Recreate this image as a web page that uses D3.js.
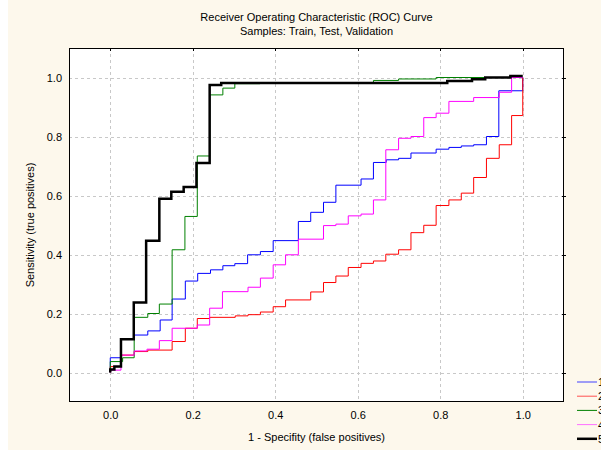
<!DOCTYPE html>
<html>
<head>
<meta charset="utf-8">
<script src="https://cdn.jsdelivr.net/npm/d3@7"></script>
<style>
  html, body { margin: 0; padding: 0; background: #ffffff; }
  svg { display: block; font-family: "Liberation Sans", Arial, sans-serif; }
</style>
</head>
<body>
<svg id="chart" width="601" height="454"></svg>
<script>
// ---------- data ----------
const titleLines = ["Receiver Operating Characteristic (ROC) Curve", "Samples: Train, Test, Validation"];
const xTitle = "1 - Specifity (false positives)";
const yTitle = "Sensitivity (true positives)";
const tickValues = [0.0, 0.2, 0.4, 0.6, 0.8, 1.0];
const seriesNames = ["1", "2", "3", "4", "5"];
const seriesColors = ["#0000ff", "#ff0000", "#008000", "#ff00ff", "#000000"];

const s1Fpr = [0, 0, 0.026, 0.058, 0.091, 0.121, 0.150, 0.182, 0.212, 0.243, 0.273, 0.302, 0.333, 0.364, 0.395, 0.456, 0.486, 0.517, 0.547, 0.608, 0.638, 0.669, 0.699, 0.729, 0.790, 0.821, 0.851, 0.881, 0.912, 0.942, 1.0];
const s1Tpr = [0, 0.050, 0.113, 0.127, 0.141, 0.178, 0.249, 0.310, 0.336, 0.348, 0.362, 0.369, 0.399, 0.410, 0.447, 0.512, 0.543, 0.577, 0.635, 0.656, 0.712, 0.721, 0.726, 0.744, 0.757, 0.763, 0.768, 0.772, 0.800, 0.955, 1.0];

const s2Fpr = [0, 0, 0.026, 0.058, 0.091, 0.150, 0.182, 0.211, 0.241, 0.303, 0.334, 0.364, 0.395, 0.425, 0.486, 0.517, 0.547, 0.577, 0.608, 0.638, 0.668, 0.699, 0.729, 0.760, 0.790, 0.821, 0.851, 0.881, 0.912, 0.943, 0.973, 1.0];
const s2Tpr = [0, 0.020, 0.059, 0.071, 0.076, 0.105, 0.150, 0.183, 0.187, 0.192, 0.196, 0.205, 0.223, 0.246, 0.273, 0.305, 0.327, 0.356, 0.370, 0.378, 0.401, 0.416, 0.474, 0.499, 0.566, 0.585, 0.608, 0.661, 0.726, 0.772, 0.871, 1.0];

const s3Fpr = [0, 0, 0.030, 0.058, 0.091, 0.119, 0.150, 0.181, 0.211, 0.241, 0.273, 0.302, 0.363, 0.638, 0.699, 0.790, 1.0];
const s3Tpr = [0, 0.037, 0.050, 0.187, 0.200, 0.232, 0.416, 0.529, 0.734, 0.941, 0.964, 0.979, 0.983, 0.990, 0.995, 1.0, 1.0];

const s4Fpr = [0, 0, 0.026, 0.058, 0.089, 0.119, 0.150, 0.211, 0.241, 0.272, 0.334, 0.364, 0.395, 0.425, 0.456, 0.517, 0.547, 0.577, 0.608, 0.638, 0.668, 0.699, 0.729, 0.760, 0.790, 0.821, 0.881, 0.943, 0.973, 1.0];
const s4Tpr = [0, 0.008, 0.059, 0.073, 0.079, 0.108, 0.150, 0.161, 0.218, 0.274, 0.289, 0.320, 0.365, 0.399, 0.452, 0.498, 0.503, 0.531, 0.537, 0.585, 0.755, 0.794, 0.800, 0.864, 0.879, 0.919, 0.932, 0.950, 1.0, 1.0];

const s5Fpr = [0, 0, 0.010, 0.026, 0.057, 0.087, 0.119, 0.148, 0.178, 0.209, 0.241, 0.269, 0.817, 0.877, 0.909, 0.970, 1.0];
const s5Tpr = [0, 0.010, 0.020, 0.113, 0.237, 0.447, 0.589, 0.613, 0.629, 0.710, 0.975, 0.981, 0.988, 0.994, 1.0, 1.005, 1.005];

const seriesFpr = [s1Fpr, s2Fpr, s3Fpr, s4Fpr, s5Fpr];
const seriesTpr = [s1Tpr, s2Tpr, s3Tpr, s4Tpr, s5Tpr];
const seriesWidths = [1, 1, 1, 1, 2.5];

// ---------- layout ----------
const W = 601, H = 454;
const plot = { left: 69, right: 564, top: 48, bottom: 402 };
const svg = d3.select("#chart");

// background panel
svg.append("rect").attr("x", 8).attr("y", 0).attr("width", W - 8).attr("height", 450).attr("fill", "#fdf8ec");

const x = d3.scaleLinear().domain([-0.1, 1.1]).range([plot.left, plot.right]);
const y = d3.scaleLinear().domain([-0.1, 1.1]).range([plot.bottom, plot.top]);

// plot area
svg.append("rect")
  .attr("x", plot.left).attr("y", plot.top)
  .attr("width", plot.right - plot.left).attr("height", plot.bottom - plot.top)
  .attr("fill", "#ffffff");

// grid
const grid = svg.append("g").attr("stroke", "#c8c8c8").attr("stroke-dasharray", "3,3").attr("shape-rendering", "crispEdges");
grid.selectAll("line.v").data(tickValues).join("line")
  .attr("x1", d => Math.round(x(d)) + 0.5).attr("x2", d => Math.round(x(d)) + 0.5)
  .attr("y1", plot.top).attr("y2", plot.bottom);
grid.selectAll("line.h").data(tickValues).join("line")
  .attr("y1", d => Math.round(y(d)) + 0.5).attr("y2", d => Math.round(y(d)) + 0.5)
  .attr("x1", plot.left).attr("x2", plot.right);

// series
const clip = svg.append("clipPath").attr("id", "clip").append("rect")
  .attr("x", plot.left).attr("y", plot.top)
  .attr("width", plot.right - plot.left).attr("height", plot.bottom - plot.top);

const line = d3.line().x(d => x(d[0])).y(d => y(d[1])).curve(d3.curveStepAfter);
const gSeries = svg.append("g").attr("clip-path", "url(#clip)");
seriesNames.forEach((name, i) => {
  const pts = d3.zip(seriesFpr[i], seriesTpr[i]);
  gSeries.append("path")
    .datum(pts)
    .attr("d", line)
    .attr("fill", "none")
    .attr("stroke", seriesColors[i])
    .attr("stroke-width", seriesWidths[i])
    .attr("stroke-linejoin", "miter");
});

// frame
svg.append("rect")
  .attr("x", plot.left + 0.5).attr("y", plot.top + 0.5)
  .attr("width", plot.right - plot.left - 1).attr("height", plot.bottom - plot.top - 1)
  .attr("fill", "none").attr("stroke", "#000").attr("stroke-width", 1);

// axes (labels via d3 axes)
const xAxis = d3.axisBottom(x).tickValues(tickValues).tickFormat(d3.format(".1f")).tickSize(0).tickPadding(9);
const yAxis = d3.axisLeft(y).tickValues(tickValues).tickFormat(d3.format(".1f")).tickSize(0).tickPadding(7);
const gx = svg.append("g").attr("transform", `translate(0,${plot.bottom})`).call(xAxis);
const gy = svg.append("g").attr("transform", `translate(${plot.left},0)`).call(yAxis);
[gx, gy].forEach(g => {
  g.select(".domain").remove();
  g.selectAll("text").attr("font-size", 11).attr("fill", "#000").attr("font-family", "Liberation Sans, Arial, sans-serif");
});

// small ticks on top (inside) and right (across frame)
const tk = svg.append("g").attr("stroke", "#000").attr("shape-rendering", "crispEdges");
tk.selectAll("line.t").data(tickValues).join("line")
  .attr("x1", d => Math.round(x(d)) + 0.5).attr("x2", d => Math.round(x(d)) + 0.5)
  .attr("y1", plot.top).attr("y2", plot.top + 3);
tk.selectAll("line.r").data(tickValues).join("line")
  .attr("y1", d => Math.round(y(d)) + 0.5).attr("y2", d => Math.round(y(d)) + 0.5)
  .attr("x1", plot.right - 2).attr("x2", plot.right + 2);

// titles
const cx = (plot.left + plot.right) / 2;
svg.append("text").attr("x", cx).attr("y", 21).attr("text-anchor", "middle").attr("font-size", 11).text(titleLines[0]);
svg.append("text").attr("x", cx).attr("y", 35).attr("text-anchor", "middle").attr("font-size", 11).text(titleLines[1]);
svg.append("text").attr("x", cx).attr("y", 441).attr("text-anchor", "middle").attr("font-size", 11).text(xTitle);
svg.append("text").attr("transform", `translate(34,${(plot.top + plot.bottom) / 2}) rotate(-90)`)
  .attr("text-anchor", "middle").attr("font-size", 11).text(yTitle);

// legend
const legendColors = ["#4040ff", "#ff5050", "#008000", "#ff70ff", "#000000"];
const legendWidths = [1, 1, 1, 1, 2.5];
const lg = svg.append("g");
seriesNames.forEach((name, i) => {
  const ly = 382 + i * 14.2;
  lg.append("line").attr("x1", 577).attr("x2", 597).attr("y1", ly).attr("y2", ly)
    .attr("stroke", legendColors[i]).attr("stroke-width", legendWidths[i]);
  lg.append("text").attr("x", 598).attr("y", ly + 4).attr("font-size", 11).text(name);
});
</script>
</body>
</html>
